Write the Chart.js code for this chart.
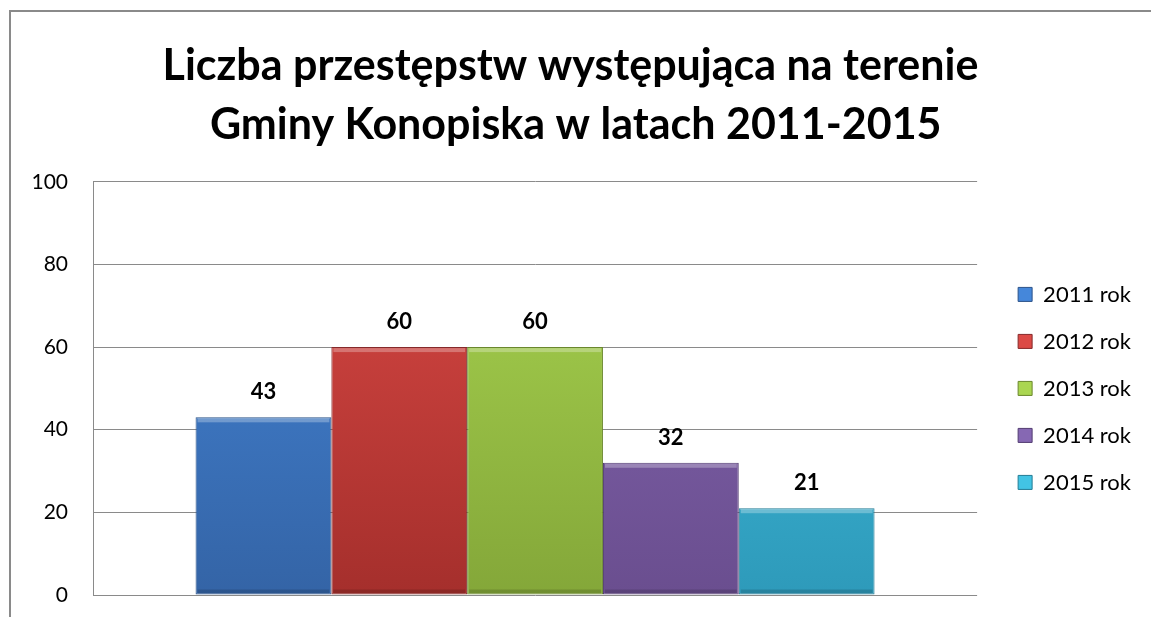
<!DOCTYPE html>
<html>
<head>
<meta charset="utf-8">
<script src="https://cdn.jsdelivr.net/npm/chart.js@4"></script>
<style>
  body { margin: 0; background: #fff; }
  #wrap { width: 1151px; height: 617px; }
</style>
</head>
<body>
<div id="wrap"><canvas id="myChart"></canvas></div>
<script>
const titleLines = ['Liczba przestępstw występująca na terenie', ' Gminy Konopiska w latach 2011-2015'];
const seriesNames = ['2011 rok', '2012 rok', '2013 rok', '2014 rok', '2015 rok'];
const crimeCounts = [43, 60, 60, 32, 21];
const yMin = 0, yMax = 100, yStep = 20;

// top / bottom of the gradient, border
const topColors = ['#4587da', '#dc4a46', '#aad651', '#8668b3', '#42c4e4'];
const bottomColors = ['#3464a6', '#a52f2c', '#84a739', '#6a4e8f', '#2e9aba'];
const borderColors = ['#2c5389', '#85292a', '#6a872d', '#533d72', '#237c95'];

function gradientFor(i) {
  return function(context) {
    const chart = context.chart;
    const area = chart.chartArea;
    if (!area) return topColors[i];
    const g = chart.ctx.createLinearGradient(0, area.top, 0, area.bottom);
    g.addColorStop(0, topColors[i]);
    g.addColorStop(1, bottomColors[i]);
    return g;
  };
}

const datasets = seriesNames.map((name, i) => ({
  label: name,
  data: [crimeCounts[i]],
  backgroundColor: gradientFor(i),
  borderColor: borderColors[i],
  borderWidth: 1,
  borderSkipped: false
}));

// grey frame round the chart (left and top only are visible)
const framePlugin = {
  id: 'frame',
  beforeDraw(chart) {
    const ctx = chart.ctx;
    ctx.save();
    ctx.strokeStyle = '#8a8a8a';
    ctx.lineWidth = 2;
    ctx.beginPath();
    ctx.moveTo(10, chart.height);
    ctx.lineTo(10, 11);
    ctx.lineTo(chart.width, 11);
    ctx.stroke();
    ctx.restore();
  }
};

// bevel edges + value labels
const labelPlugin = {
  id: 'valueLabels',
  afterDatasetsDraw(chart) {
    const ctx = chart.ctx;
    ctx.save();
    chart.data.datasets.forEach((ds, i) => {
      const bar = chart.getDatasetMeta(i).data[0];
      const w = bar.width;
      const left = bar.x - w / 2;
      ctx.fillStyle = 'rgba(255,255,255,0.28)';
      ctx.fillRect(left + 2, bar.y + 1, w - 4, 4);
      ctx.fillStyle = 'rgba(0,0,0,0.15)';
      ctx.fillRect(left + 2, bar.base - 5, w - 4, 4);
      ctx.fillStyle = '#000';
      ctx.font = 'bold 22px Lato';
      ctx.textAlign = 'center';
      ctx.textBaseline = 'middle';
      ctx.fillText(ds.data[0], bar.x, bar.y - 25);
    });
    ctx.restore();
  }
};

const ctx = document.getElementById('myChart').getContext('2d');
const myChart = new Chart(ctx, {
  type: 'bar',
  data: { labels: [''], datasets: datasets },
  options: {
    responsive: true,
    maintainAspectRatio: false,
    animation: false,
    layout: { padding: { left: 0, right: 10, top: 0, bottom: 22 } },
    datasets: { bar: { barPercentage: 1, categoryPercentage: 0.768 } },
    scales: {
      x: { display: false },
      y: {
        min: yMin,
        max: yMax,
        ticks: { stepSize: yStep, color: '#000', font: { family: 'Lato', size: 21 }, padding: 5 },
        grid: { color: '#8a8a8a', drawTicks: true, tickLength: 20, tickColor: 'rgba(0,0,0,0)' },
        border: { display: true, color: '#8a8a8a', width: 1 },
        afterFit: s => { s.width = 93; }
      },
      gap: {
        position: 'right',
        display: true,
        ticks: { display: false },
        grid: { display: false },
        border: { display: false },
        afterFit: s => { s.width = 16; }
      }
    },
    plugins: {
      title: {
        display: true,
        text: titleLines,
        color: '#000',
        font: { family: 'Lato', size: 43, weight: 'bold', lineHeight: 1.37 },
        padding: { top: 37, bottom: 27 }
      },
      legend: {
        position: 'right',
        fullSize: false,
        labels: {
          color: '#000',
          font: { family: 'Lato', size: 22 },
          boxWidth: 14,
          boxHeight: 14,
          padding: 25,
          generateLabels(chart) {
            const items = Chart.defaults.plugins.legend.labels.generateLabels(chart);
            items.forEach((it, i) => { it.fillStyle = topColors[i]; it.strokeStyle = borderColors[i]; it.lineWidth = 1; });
            return items;
          }
        }
      },
      tooltip: { enabled: false }
    }
  },
  plugins: [framePlugin, labelPlugin]
});
</script>
</body>
</html>
